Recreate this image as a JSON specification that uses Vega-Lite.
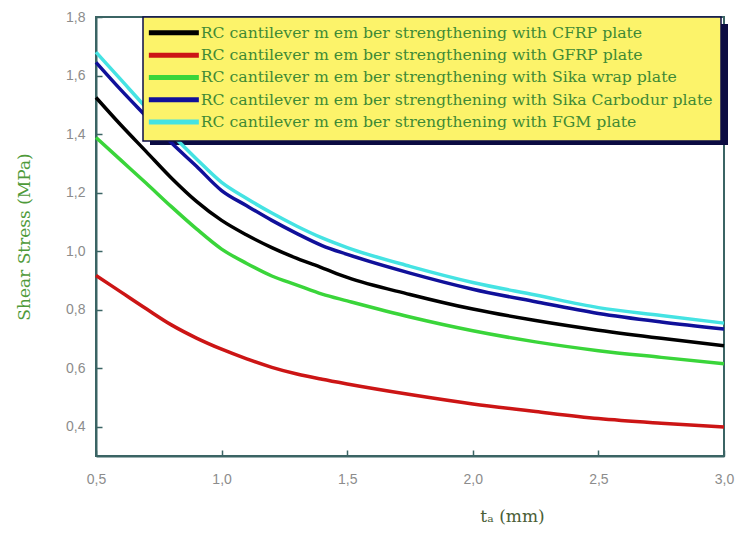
{
  "$schema": "https://vega.github.io/schema/vega-lite/v6.json",
  "autosize": {"type": "none"},
  "width": 628,
  "height": 439,
  "padding": {"left": 96, "top": 17, "right": 12, "bottom": 77},
  "background": "#ffffff",
  "config": {
    "view": {"stroke": "#3b6464", "strokeWidth": 2},
    "axis": {
      "domainColor": "#3b6464",
      "domainWidth": 2,
      "tickColor": "#3b6464",
      "tickWidth": 1.5,
      "tickSize": -6,
      "gridColor": "#b8b8b8",
      "gridDash": [1, 3],
      "gridWidth": 1,
      "labelColor": "#8c8c8c",
      "labelFont": "Liberation Sans",
      "labelFontSize": 14
    },
    "legend": {"strokeWidth": 1.5}
  },
  "data": {
    "values": [
      {"t": 0.5, "stress": 1.525, "series": "RC cantilever m em ber strengthening with CFRP plate"},
      {"t": 0.6, "stress": 1.43, "series": "RC cantilever m em ber strengthening with CFRP plate"},
      {"t": 0.7, "stress": 1.34, "series": "RC cantilever m em ber strengthening with CFRP plate"},
      {"t": 0.8, "stress": 1.25, "series": "RC cantilever m em ber strengthening with CFRP plate"},
      {"t": 0.9, "stress": 1.17, "series": "RC cantilever m em ber strengthening with CFRP plate"},
      {"t": 1.0, "stress": 1.105, "series": "RC cantilever m em ber strengthening with CFRP plate"},
      {"t": 1.1, "stress": 1.055, "series": "RC cantilever m em ber strengthening with CFRP plate"},
      {"t": 1.2, "stress": 1.012, "series": "RC cantilever m em ber strengthening with CFRP plate"},
      {"t": 1.3, "stress": 0.975, "series": "RC cantilever m em ber strengthening with CFRP plate"},
      {"t": 1.4, "stress": 0.943, "series": "RC cantilever m em ber strengthening with CFRP plate"},
      {"t": 1.5, "stress": 0.91, "series": "RC cantilever m em ber strengthening with CFRP plate"},
      {"t": 1.75, "stress": 0.852, "series": "RC cantilever m em ber strengthening with CFRP plate"},
      {"t": 2.0, "stress": 0.802, "series": "RC cantilever m em ber strengthening with CFRP plate"},
      {"t": 2.25, "stress": 0.763, "series": "RC cantilever m em ber strengthening with CFRP plate"},
      {"t": 2.5, "stress": 0.73, "series": "RC cantilever m em ber strengthening with CFRP plate"},
      {"t": 2.75, "stress": 0.702, "series": "RC cantilever m em ber strengthening with CFRP plate"},
      {"t": 3.0, "stress": 0.677, "series": "RC cantilever m em ber strengthening with CFRP plate"},

      {"t": 0.5, "stress": 0.917, "series": "RC cantilever m em ber strengthening with GFRP plate"},
      {"t": 0.6, "stress": 0.86, "series": "RC cantilever m em ber strengthening with GFRP plate"},
      {"t": 0.7, "stress": 0.803, "series": "RC cantilever m em ber strengthening with GFRP plate"},
      {"t": 0.8, "stress": 0.748, "series": "RC cantilever m em ber strengthening with GFRP plate"},
      {"t": 0.9, "stress": 0.703, "series": "RC cantilever m em ber strengthening with GFRP plate"},
      {"t": 1.0, "stress": 0.665, "series": "RC cantilever m em ber strengthening with GFRP plate"},
      {"t": 1.1, "stress": 0.632, "series": "RC cantilever m em ber strengthening with GFRP plate"},
      {"t": 1.2, "stress": 0.603, "series": "RC cantilever m em ber strengthening with GFRP plate"},
      {"t": 1.3, "stress": 0.58, "series": "RC cantilever m em ber strengthening with GFRP plate"},
      {"t": 1.4, "stress": 0.562, "series": "RC cantilever m em ber strengthening with GFRP plate"},
      {"t": 1.5, "stress": 0.546, "series": "RC cantilever m em ber strengthening with GFRP plate"},
      {"t": 1.75, "stress": 0.51, "series": "RC cantilever m em ber strengthening with GFRP plate"},
      {"t": 2.0, "stress": 0.478, "series": "RC cantilever m em ber strengthening with GFRP plate"},
      {"t": 2.25, "stress": 0.452, "series": "RC cantilever m em ber strengthening with GFRP plate"},
      {"t": 2.5, "stress": 0.428, "series": "RC cantilever m em ber strengthening with GFRP plate"},
      {"t": 2.75, "stress": 0.412, "series": "RC cantilever m em ber strengthening with GFRP plate"},
      {"t": 3.0, "stress": 0.399, "series": "RC cantilever m em ber strengthening with GFRP plate"},

      {"t": 0.5, "stress": 1.388, "series": "RC cantilever m em ber strengthening with Sika wrap plate"},
      {"t": 0.6, "stress": 1.31, "series": "RC cantilever m em ber strengthening with Sika wrap plate"},
      {"t": 0.7, "stress": 1.232, "series": "RC cantilever m em ber strengthening with Sika wrap plate"},
      {"t": 0.8, "stress": 1.152, "series": "RC cantilever m em ber strengthening with Sika wrap plate"},
      {"t": 0.9, "stress": 1.076, "series": "RC cantilever m em ber strengthening with Sika wrap plate"},
      {"t": 1.0, "stress": 1.007, "series": "RC cantilever m em ber strengthening with Sika wrap plate"},
      {"t": 1.1, "stress": 0.958, "series": "RC cantilever m em ber strengthening with Sika wrap plate"},
      {"t": 1.2, "stress": 0.915, "series": "RC cantilever m em ber strengthening with Sika wrap plate"},
      {"t": 1.3, "stress": 0.884, "series": "RC cantilever m em ber strengthening with Sika wrap plate"},
      {"t": 1.4, "stress": 0.853, "series": "RC cantilever m em ber strengthening with Sika wrap plate"},
      {"t": 1.5, "stress": 0.83, "series": "RC cantilever m em ber strengthening with Sika wrap plate"},
      {"t": 1.75, "stress": 0.775, "series": "RC cantilever m em ber strengthening with Sika wrap plate"},
      {"t": 2.0, "stress": 0.728, "series": "RC cantilever m em ber strengthening with Sika wrap plate"},
      {"t": 2.25, "stress": 0.69, "series": "RC cantilever m em ber strengthening with Sika wrap plate"},
      {"t": 2.5, "stress": 0.66, "series": "RC cantilever m em ber strengthening with Sika wrap plate"},
      {"t": 2.75, "stress": 0.637, "series": "RC cantilever m em ber strengthening with Sika wrap plate"},
      {"t": 3.0, "stress": 0.615, "series": "RC cantilever m em ber strengthening with Sika wrap plate"},

      {"t": 0.5, "stress": 1.645, "series": "RC cantilever m em ber strengthening with Sika Carbodur plate"},
      {"t": 0.6, "stress": 1.55, "series": "RC cantilever m em ber strengthening with Sika Carbodur plate"},
      {"t": 0.7, "stress": 1.46, "series": "RC cantilever m em ber strengthening with Sika Carbodur plate"},
      {"t": 0.8, "stress": 1.37, "series": "RC cantilever m em ber strengthening with Sika Carbodur plate"},
      {"t": 0.9, "stress": 1.29, "series": "RC cantilever m em ber strengthening with Sika Carbodur plate"},
      {"t": 1.0, "stress": 1.207, "series": "RC cantilever m em ber strengthening with Sika Carbodur plate"},
      {"t": 1.1, "stress": 1.155, "series": "RC cantilever m em ber strengthening with Sika Carbodur plate"},
      {"t": 1.2, "stress": 1.105, "series": "RC cantilever m em ber strengthening with Sika Carbodur plate"},
      {"t": 1.3, "stress": 1.06, "series": "RC cantilever m em ber strengthening with Sika Carbodur plate"},
      {"t": 1.4, "stress": 1.019, "series": "RC cantilever m em ber strengthening with Sika Carbodur plate"},
      {"t": 1.5, "stress": 0.989, "series": "RC cantilever m em ber strengthening with Sika Carbodur plate"},
      {"t": 1.75, "stress": 0.925, "series": "RC cantilever m em ber strengthening with Sika Carbodur plate"},
      {"t": 2.0, "stress": 0.87, "series": "RC cantilever m em ber strengthening with Sika Carbodur plate"},
      {"t": 2.25, "stress": 0.827, "series": "RC cantilever m em ber strengthening with Sika Carbodur plate"},
      {"t": 2.5, "stress": 0.787, "series": "RC cantilever m em ber strengthening with Sika Carbodur plate"},
      {"t": 2.75, "stress": 0.758, "series": "RC cantilever m em ber strengthening with Sika Carbodur plate"},
      {"t": 3.0, "stress": 0.734, "series": "RC cantilever m em ber strengthening with Sika Carbodur plate"},

      {"t": 0.5, "stress": 1.68, "series": "RC cantilever m em ber strengthening with FGM  plate"},
      {"t": 0.6, "stress": 1.585, "series": "RC cantilever m em ber strengthening with FGM  plate"},
      {"t": 0.7, "stress": 1.49, "series": "RC cantilever m em ber strengthening with FGM  plate"},
      {"t": 0.8, "stress": 1.40, "series": "RC cantilever m em ber strengthening with FGM  plate"},
      {"t": 0.9, "stress": 1.315, "series": "RC cantilever m em ber strengthening with FGM  plate"},
      {"t": 1.0, "stress": 1.235, "series": "RC cantilever m em ber strengthening with FGM  plate"},
      {"t": 1.1, "stress": 1.18, "series": "RC cantilever m em ber strengthening with FGM  plate"},
      {"t": 1.2, "stress": 1.13, "series": "RC cantilever m em ber strengthening with FGM  plate"},
      {"t": 1.3, "stress": 1.085, "series": "RC cantilever m em ber strengthening with FGM  plate"},
      {"t": 1.4, "stress": 1.045, "series": "RC cantilever m em ber strengthening with FGM  plate"},
      {"t": 1.5, "stress": 1.012, "series": "RC cantilever m em ber strengthening with FGM  plate"},
      {"t": 1.75, "stress": 0.948, "series": "RC cantilever m em ber strengthening with FGM  plate"},
      {"t": 2.0, "stress": 0.893, "series": "RC cantilever m em ber strengthening with FGM  plate"},
      {"t": 2.25, "stress": 0.85, "series": "RC cantilever m em ber strengthening with FGM  plate"},
      {"t": 2.5, "stress": 0.807, "series": "RC cantilever m em ber strengthening with FGM  plate"},
      {"t": 2.75, "stress": 0.78, "series": "RC cantilever m em ber strengthening with FGM  plate"},
      {"t": 3.0, "stress": 0.754, "series": "RC cantilever m em ber strengthening with FGM  plate"}
    ]
  },
  "layer": [
    {
      "mark": {"type": "rect", "color": "#0c0c42", "clip": false},
      "encoding": {
        "x": {"datum": 0.716, "type": "quantitative"},
        "x2": {"datum": 3.015},
        "y": {"datum": 1.775, "type": "quantitative"},
        "y2": {"datum": 1.363}
      }
    },
    {
      "mark": {"type": "line", "strokeWidth": 3.5, "interpolate": "monotone"},
      "encoding": {
        "x": {
          "field": "t",
          "type": "quantitative",
          "scale": {"domain": [0.5, 3.0], "nice": false, "zero": false},
          "axis": {
            "values": [0.5, 1.0, 1.5, 2.0, 2.5, 3.0],
            "labelExpr": "replace(format(datum.value, '.1f'), '.', ',')",
            "labelPadding": 22,
            "labelFlush": false,
            "title": "tₐ (mm)",
            "titleFont": "DejaVu Serif",
            "titleFontSize": 17,
            "titleFontWeight": "normal",
            "titleColor": "#4a5e36",
            "titleX": 416,
            "titleY": 52
          }
        },
        "y": {
          "field": "stress",
          "type": "quantitative",
          "scale": {"domain": [0.3, 1.8], "nice": false, "zero": false},
          "axis": {
            "values": [0.4, 0.6, 0.8, 1.0, 1.2, 1.4, 1.6, 1.8],
            "labelExpr": "replace(format(datum.value, '.1f'), '.', ',')",
            "labelPadding": 17,
            "labelFlush": false,
            "title": "Shear Stress (MPa)",
            "titleFont": "DejaVu Serif",
            "titleFontSize": 17,
            "titleFontWeight": "normal",
            "titleColor": "#4f9a3a",
            "titlePadding": 32
          }
        },
        "color": {
          "field": "series",
          "type": "nominal",
          "sort": [
            "RC cantilever m em ber strengthening with CFRP plate",
            "RC cantilever m em ber strengthening with GFRP plate",
            "RC cantilever m em ber strengthening with Sika wrap plate",
            "RC cantilever m em ber strengthening with Sika Carbodur plate",
            "RC cantilever m em ber strengthening with FGM  plate"
          ],
          "scale": {
            "domain": [
              "RC cantilever m em ber strengthening with CFRP plate",
              "RC cantilever m em ber strengthening with GFRP plate",
              "RC cantilever m em ber strengthening with Sika wrap plate",
              "RC cantilever m em ber strengthening with Sika Carbodur plate",
              "RC cantilever m em ber strengthening with FGM  plate"
            ],
            "range": ["#000000", "#cc1515", "#3ad53a", "#10109a", "#45e3e3"]
          },
          "legend": {
            "title": null,
            "orient": "none",
            "legendX": 47,
            "legendY": 0,
            "fillColor": "#fcf36a",
            "strokeColor": "#0c0c48",
            "padding": 8,
            "symbolType": "M-2,0H8",
            "symbolSize": 100,
            "symbolStrokeWidth": 5,
            "symbolFillColor": "transparent",
            "labelOffset": 34,
            "rowPadding": 1.3,
            "labelFont": "DejaVu Serif",
            "labelFontSize": 15.7,
            "labelColor": "#3f8a35",
            "labelLimit": 700
          }
        }
      }
    }
  ]
}
